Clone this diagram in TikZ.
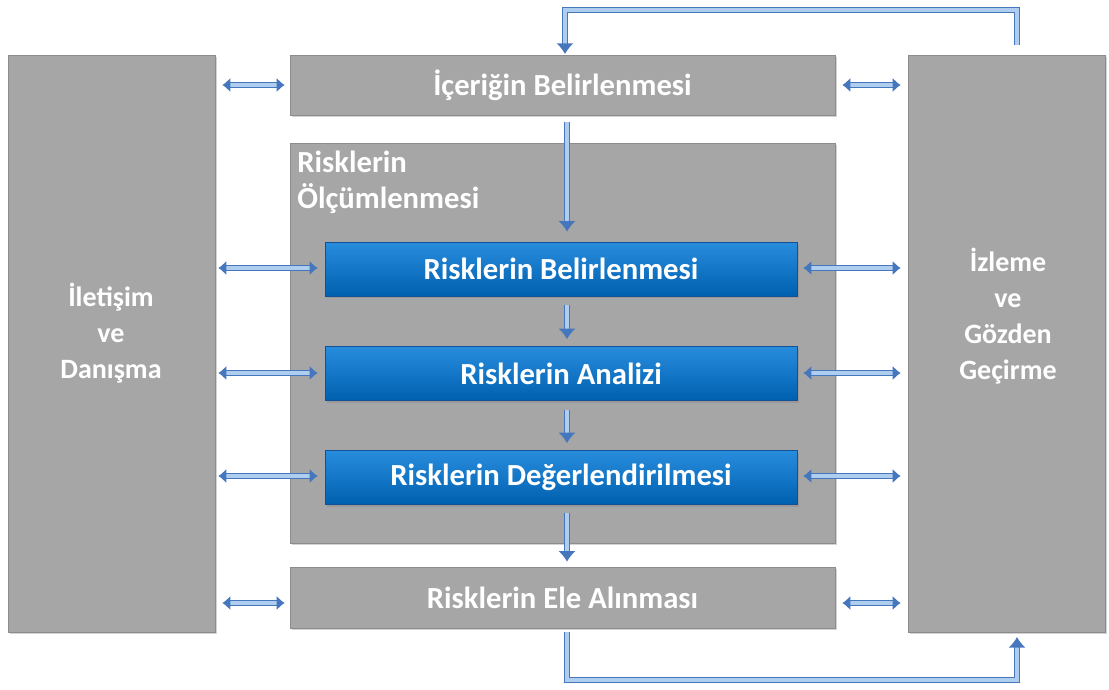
\documentclass[tikz,border=0pt]{standalone}
\usepackage{fontspec}
\setmainfont{Carlito}
\usetikzlibrary{arrows.meta,shadows}
\definecolor{boxgray}{RGB}{166,166,166}
\definecolor{edgegray}{RGB}{140,140,140}
\definecolor{bluetop}{RGB}{40,140,220}
\definecolor{bluebot}{RGB}{0,96,176}
\definecolor{bluedge}{RGB}{20,80,150}
\definecolor{arrout}{RGB}{70,118,188}
\definecolor{arrin}{RGB}{175,205,238}
\tikzset{
  graybox/.style={fill=boxgray, draw=edgegray, line width=0.5pt, drop shadow={shadow xshift=1.5pt, shadow yshift=-1.5pt, opacity=0.35}, text=white, font=\fontsize{23}{27}\selectfont\bfseries, inner sep=0pt},
  bluebox/.style={top color=bluetop, bottom color=bluebot, draw=bluedge, line width=0.5pt, drop shadow={shadow xshift=1.5pt, shadow yshift=-1.5pt, opacity=0.35}, text=white, font=\fontsize{23}{27}\selectfont\bfseries, inner sep=0pt},
  arr/.style={draw=arrout, double=arrin, double distance=3pt, line width=1.1pt, -{Latex[length=8pt,width=13pt]}},
  darr/.style={arr, {Latex[length=6pt,width=11pt]}-{Latex[length=6pt,width=11pt]}},
}
\begin{document}
\begin{tikzpicture}[x=0.75pt,y=-0.75pt]
\useasboundingbox (0,0) rectangle (1109,689);
% side boxes
\node[graybox, minimum width=207*0.75pt, minimum height=577*0.75pt] (left) at (111.5,343.5) {};
\node[graybox, minimum width=197*0.75pt, minimum height=577*0.75pt] (right) at (1006.5,343.5) {};
\node[text=white, font=\fontsize{21}{27}\selectfont\bfseries, align=center] (lefttxt) at (111,333) {İletişim\\ve\\Danışma};
\node[text=white, font=\fontsize{21}{27}\selectfont\bfseries, align=center] (righttxt) at (1008,316) {İzleme\\ve\\Gözden\\Geçirme};
% center column
\node[graybox, minimum width=545*0.75pt, minimum height=60*0.75pt] (top) at (562.5,85) {İçeriğin Belirlenmesi};
\node[graybox, minimum width=545*0.75pt, minimum height=400*0.75pt] (mid) at (562.5,343) {};
\node[anchor=north west, text=white, font=\fontsize{23}{27}\selectfont\bfseries, align=left, inner sep=0pt] (midtxt) at (297,151) {Risklerin\\Ölçümlenmesi};
\node[graybox, minimum width=545*0.75pt, minimum height=61*0.75pt] (bot) at (562.5,597.5) {Risklerin Ele Alınması};
\node[bluebox, minimum width=472*0.75pt, minimum height=54*0.75pt] (b1) at (561,269) {Risklerin Belirlenmesi};
\node[bluebox, minimum width=472*0.75pt, minimum height=54*0.75pt] (b2) at (561,373.5) {Risklerin Analizi};
\node[bluebox, minimum width=472*0.75pt, minimum height=54*0.75pt] (b3) at (561,477.5) {Risklerin Değerlendirilmesi};
% coordinates for feedback loops
\coordinate (rtop) at (1017,45);
\coordinate (rbot) at (1017,632);
\coordinate (topin) at (565,55);
\coordinate (botout) at (567,632);
% vertical flow
\draw[arr, shorten <=7*0.75pt, shorten >=10*0.75pt] (top.south -| 567,0) -- (b1.north -| 567,0);
\draw[arr, shorten <=9*0.75pt, shorten >=7*0.75pt] (b1.south -| 567,0) -- (b2.north -| 567,0);
\draw[arr, shorten <=9*0.75pt, shorten >=7*0.75pt] (b2.south -| 567,0) -- (b3.north -| 567,0);
\draw[arr, shorten <=8*0.75pt, shorten >=5*0.75pt] (b3.south -| 567,0) -- (bot.north -| 567,0);
% horizontal double arrows
\foreach \n/\y in {top/85, bot/603}{
  \draw[darr, shorten <=7*0.75pt, shorten >=5*0.75pt] (left.east |- 0,\y) -- (\n.west |- 0,\y);
  \draw[darr, shorten <=7*0.75pt, shorten >=7*0.75pt] (\n.east |- 0,\y) -- (right.west |- 0,\y);
}
\foreach \n/\y in {b1/268, b2/373, b3/476}{
  \draw[darr, shorten <=3*0.75pt, shorten >=7*0.75pt] (left.east |- 0,\y) -- (\n.west |- 0,\y);
  \draw[darr, shorten <=6*0.75pt, shorten >=7*0.75pt] (\n.east |- 0,\y) -- (right.west |- 0,\y);
}
% feedback loops
\draw[arr, shorten >=1*0.75pt] (rtop) -- (1017,10) -- (565,10) -- (topin);
\draw[arr, shorten >=5*0.75pt] (botout) -- (567,680) -- (1017,680) -- (rbot);
\end{tikzpicture}
\end{document}
